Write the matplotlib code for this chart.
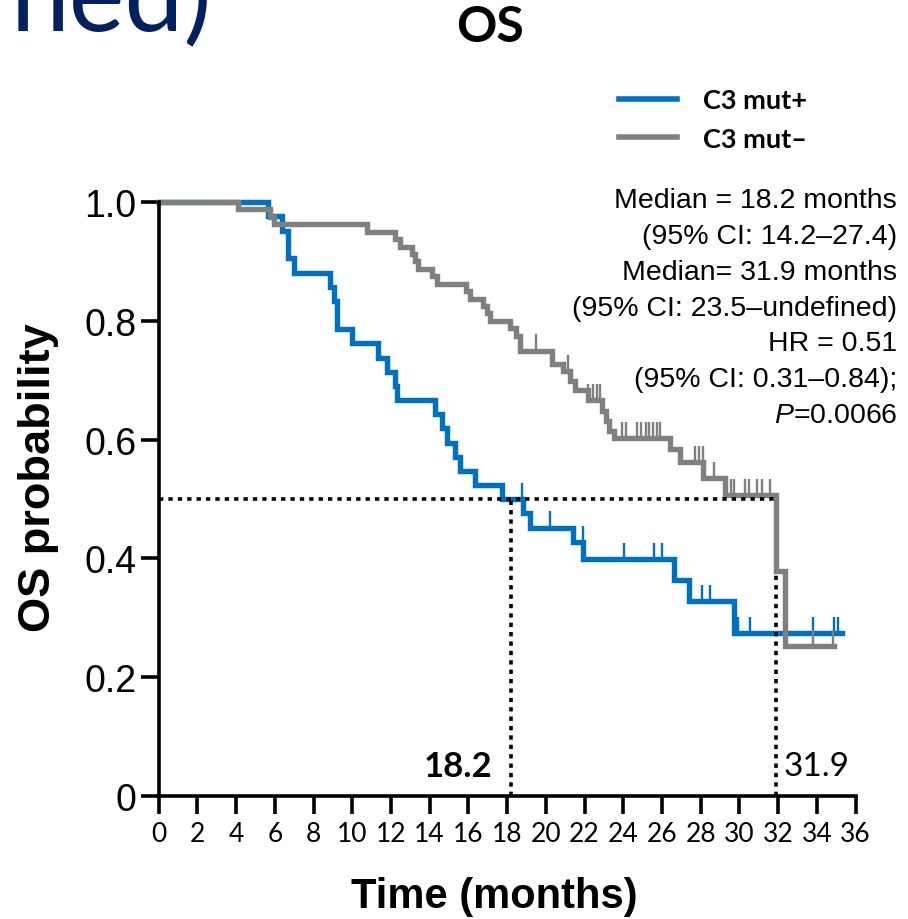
import matplotlib
matplotlib.use("Agg")
import matplotlib.pyplot as plt
from matplotlib import font_manager
from matplotlib.lines import Line2D


def pick(*names):
    for n in names:
        try:
            font_manager.findfont(n, fallback_to_default=False)
            return n
        except ValueError:
            pass
    return "DejaVu Sans"


ARIAL = pick("Liberation Sans", "Arial", "DejaVu Sans")
NARROW = pick("Liberation Sans Narrow", "Lato")
CALIBRI = pick("Lato", "Open Sans")

plt.rcParams["mathtext.fontset"] = "custom"
plt.rcParams["mathtext.it"] = ARIAL + ":italic"
plt.rcParams["mathtext.rm"] = ARIAL

# KM curves (time in months, survival after the step)
mut_pos_t = [0, 5.67, 6.38, 6.7, 7.0, 8.85, 9.08, 9.2, 9.97, 11.35, 11.8, 12.2, 12.33,
             14.28, 14.62, 14.88, 15.3, 15.57, 16.34, 17.72, 18.8, 19.2, 21.4, 21.9,
             26.6, 27.4, 29.7, 35.3]
mut_pos_s = [1.0, 0.976, 0.952, 0.905, 0.881, 0.857, 0.833, 0.786, 0.762, 0.738, 0.714,
             0.690, 0.667, 0.643, 0.619, 0.595, 0.571, 0.548, 0.524, 0.500, 0.476, 0.452,
             0.427, 0.399, 0.363, 0.329, 0.274, 0.274]
mut_pos_cens_t = [18.75, 20.2, 21.9, 24.05, 25.6, 26.0, 28.05, 28.5, 29.9, 30.55, 33.8, 34.9, 35.1]
mut_pos_cens_s = [0.500, 0.452, 0.427, 0.399, 0.399, 0.399, 0.329, 0.329, 0.274, 0.274, 0.274, 0.274, 0.274]

mut_neg_t = [0, 4.1, 5.75, 5.95, 10.75, 12.2, 12.45, 13.07, 13.25, 13.4, 14.1, 14.36,
             15.9, 16.1, 16.77, 16.95, 17.1, 18.15, 18.45, 18.65, 20.3, 20.9, 21.25, 21.5,
             22.2, 22.9, 23.1, 23.25, 23.5, 26.4, 26.95, 28.1, 29.25, 31.9, 32.35, 34.9]
mut_neg_s = [1.0, 0.9875, 0.975, 0.9625, 0.95, 0.9375, 0.925, 0.9125, 0.90, 0.8875, 0.875,
             0.8625, 0.85, 0.8375, 0.825, 0.8125, 0.80, 0.7875, 0.775, 0.75, 0.728, 0.715,
             0.699, 0.683, 0.666, 0.648, 0.631, 0.614, 0.603, 0.584, 0.563, 0.535, 0.506,
             0.378, 0.253, 0.253]
mut_neg_cens_t = [19.5, 21.15, 22.2, 22.45, 22.65, 22.8, 23.92, 24.14, 24.7, 24.9, 25.18,
                  25.35, 25.52, 25.73, 25.9, 27.7, 27.93, 28.1, 28.7, 29.55, 29.7, 30.3,
                  30.5, 30.9, 31.15, 31.6, 33.8, 34.85]
mut_neg_cens_s = [0.75, 0.715, 0.666, 0.666, 0.666, 0.666, 0.603, 0.603, 0.603, 0.603, 0.603,
                  0.603, 0.603, 0.603, 0.603, 0.563, 0.563, 0.563, 0.535, 0.506, 0.506, 0.506,
                  0.506, 0.506, 0.506, 0.506, 0.253, 0.253]

median_pos = 18.2
median_neg = 31.9
median_neg_low = 0.378

series_labels = ["C3 mut+", "C3 mut\u2013"]
series_colors = ["#0070C0", "#808080"]

stats_lines = ["Median = 18.2 months", "(95% CI: 14.2\u201327.4)", "Median= 31.9 months",
               "(95% CI: 23.5\u2013undefined)", "HR = 0.51", "(95% CI: 0.31\u20130.84);",
               r"$\mathit{P}$=0.0066"]

x_ticks = list(range(0, 37, 2))
y_ticks = [0, 0.2, 0.4, 0.6, 0.8, 1.0]
y_ticklabels = ["0", "0.2", "0.4", "0.6", "0.8", "1.0"]

fig = plt.figure(figsize=(9.08, 9.2), dpi=100)
ax = fig.add_axes([0.1747, 0.1337, 0.7676, 0.6456])

tick_h = 0.027
ax.step(mut_pos_t, mut_pos_s, where="post", color=series_colors[0], lw=3.9, clip_on=False,
        solid_joinstyle="miter")
ax.vlines(mut_pos_cens_t, mut_pos_cens_s, [s + tick_h for s in mut_pos_cens_s],
          color=series_colors[0], lw=1.7)
ax.step(mut_neg_t, mut_neg_s, where="post", color=series_colors[1], lw=3.9, clip_on=False,
        solid_joinstyle="miter")
ax.vlines(mut_neg_cens_t, mut_neg_cens_s, [s + tick_h for s in mut_neg_cens_s],
          color=series_colors[1], lw=1.7)

dot = (0, (1.2, 1.4))
ax.plot([0, median_neg], [0.5, 0.5], color="black", lw=2.6, ls=dot, dash_capstyle="butt")
ax.plot([median_pos, median_pos], [0, 0.5], color="black", lw=2.6, ls=dot, dash_capstyle="butt")
ax.plot([median_neg, median_neg], [0, median_neg_low], color="black", lw=2.6, ls=dot,
        dash_capstyle="butt")

ax.text(17.25, 0.05, "18.2", ha="right", va="center", fontsize=25, fontweight="bold",
        family=NARROW)
ax.text(32.3, 0.05, "31.9", ha="left", va="center", fontsize=24, family=NARROW)

ax.set_xlim(0, 36)
ax.set_ylim(0, 1.0)
for side in ["top", "right"]:
    ax.spines[side].set_visible(False)
for side in ["left", "bottom"]:
    ax.spines[side].set_linewidth(2.6)
ax.set_xticks(x_ticks)
ax.set_xticklabels([str(v) for v in x_ticks], family=NARROW, fontsize=19)
ax.set_yticks(y_ticks)
ax.set_yticklabels(y_ticklabels, family=ARIAL, fontsize=27)
ax.tick_params(axis="x", length=13, width=2.6, pad=5)
ax.tick_params(axis="y", length=13, width=2.6, pad=3)

ax.set_xlabel("Time (months)", family=ARIAL, fontsize=30, fontweight="bold")
ax.xaxis.set_label_coords(0.481, -0.135)
ax.set_ylabel("OS probability", family=ARIAL, fontsize=32.5, fontweight="bold")
ax.yaxis.set_label_coords(-0.143, 0.537)

fig.text(0.540, 0.970, "OS", ha="center", va="center", fontsize=36, fontweight="bold",
         family=CALIBRI)
fig.text(0.012, 0.966, "ned)", ha="left", va="baseline", fontsize=76, color="#002060",
         family=CALIBRI)

handles = [Line2D([], [], color=c, lw=4) for c in series_colors]
fig.legend(handles, series_labels, loc="upper left", bbox_to_anchor=(0.667, 0.918),
           frameon=False, prop={"family": CALIBRI, "weight": "bold", "size": 19.5},
           handlelength=2.15, handletextpad=0.95, labelspacing=0.55, borderpad=0)

y0 = 0.781
for i, line in enumerate(stats_lines):
    fig.text(0.988, y0 - i * 0.0388, line, ha="right", va="center", fontsize=20.5,
             family=ARIAL)

fig.savefig("out.png", dpi=100)
